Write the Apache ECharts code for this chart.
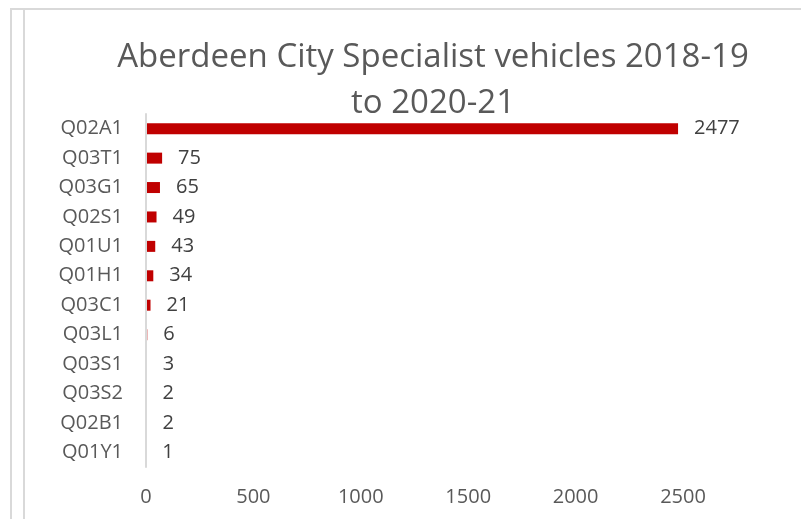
<!DOCTYPE html>
<html>
<head>
<meta charset="utf-8">
<script src="https://cdn.jsdelivr.net/npm/echarts@6/dist/echarts.min.js"></script>
<style>
  html, body { margin: 0; padding: 0; background: #fff; }
  #chart { width: 806px; height: 519px; }
</style>
</head>
<body>
<div id="chart"></div>
<script>
// categories top to bottom
const categories = ['Q02A1', 'Q03T1', 'Q03G1', 'Q02S1', 'Q01U1', 'Q01H1', 'Q03C1', 'Q03L1', 'Q03S1', 'Q03S2', 'Q02B1', 'Q01Y1'];
const vehicles = [2477, 75, 65, 49, 43, 34, 21, 6, 3, 2, 2, 1];
const titleText = 'Aberdeen City Specialist vehicles 2018-19\nto 2020-21';

const chart = echarts.init(document.getElementById('chart'));
const font = '"Open Sans", "Noto Sans", sans-serif';

chart.setOption({
  backgroundColor: '#fff',
  animation: false,
  textStyle: { fontFamily: font },
  title: {
    text: titleText,
    left: 428,
    top: 30,
    textAlign: 'center',
    textStyle: {
      fontFamily: font,
      fontSize: 33,
      fontWeight: 'normal',
      color: '#595959',
      lineHeight: 46
    }
  },
  // frame lines of the cropped chart area
  graphic: [
    { type: 'line', shape: { x1: 10, y1: 9, x2: 801, y2: 9 }, style: { stroke: '#d9d9d9', lineWidth: 2 } },
    { type: 'line', shape: { x1: 11, y1: 9, x2: 11, y2: 519 }, style: { stroke: '#d9d9d9', lineWidth: 2 } },
    { type: 'line', shape: { x1: 24, y1: 9, x2: 24, y2: 519 }, style: { stroke: '#d9d9d9', lineWidth: 2 } }
  ],
  grid: {
    left: 146,
    right: 123,
    top: 114,
    bottom: 52,
    containLabel: false
  },
  xAxis: {
    type: 'value',
    min: 0,
    max: 2500,
    interval: 500,
    axisLine: { show: false },
    axisTick: { show: false },
    splitLine: { show: false },
    axisLabel: {
      fontFamily: font,
      fontSize: 20,
      color: '#595959',
      margin: 20,
      formatter: v => String(v)
    }
  },
  yAxis: {
    type: 'category',
    inverse: true,
    data: categories,
    z: 5,
    axisLine: { show: true, lineStyle: { color: '#d9d9d9', width: 2 } },
    axisTick: { show: false },
    axisLabel: {
      fontFamily: font,
      fontSize: 20,
      color: '#595959',
      margin: 23
    }
  },
  series: [
    {
      name: 'Specialist vehicles',
      type: 'bar',
      barWidth: 11,
      data: vehicles,
      itemStyle: { color: '#c00000' },
      label: {
        show: true,
        position: 'right',
        distance: 16,
        fontFamily: font,
        fontSize: 20,
        color: '#404040'
      }
    }
  ]
});
</script>
</body>
</html>
